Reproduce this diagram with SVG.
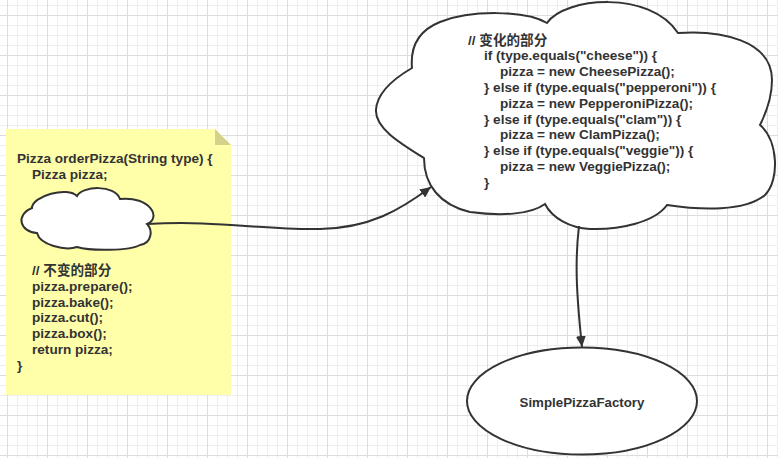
<svg xmlns="http://www.w3.org/2000/svg" width="778" height="458" viewBox="0 0 778 458">
<defs>
<pattern id="grid" patternUnits="userSpaceOnUse" x="7" y="15" width="40" height="40">
<rect x="0" y="0" width="40" height="40" fill="#ffffff"/>
<rect x="10" y="0" width="1" height="40" fill="#eeeeee"/>
<rect x="20" y="0" width="1" height="40" fill="#eeeeee"/>
<rect x="30" y="0" width="1" height="40" fill="#eeeeee"/>
<rect x="0" y="10" width="40" height="1" fill="#eeeeee"/>
<rect x="0" y="20" width="40" height="1" fill="#eeeeee"/>
<rect x="0" y="30" width="40" height="1" fill="#eeeeee"/>
<rect x="0" y="0" width="1" height="40" fill="#dddddd"/>
<rect x="0" y="0" width="40" height="1" fill="#dddddd"/>
</pattern>
<marker id="arrow" markerUnits="userSpaceOnUse" markerWidth="12" markerHeight="10" refX="11" refY="5" orient="auto">
<path d="M0,0 L11,5 L0,10 z" fill="#333333"/>
</marker>
<style>
.t{font-family:"Liberation Sans","Noto Sans CJK SC",sans-serif;font-size:13.6px;font-weight:bold;fill:#333333}
.shape{fill:#ffffff;stroke:#333333;stroke-width:2}
.conn{fill:none;stroke:#333333;stroke-width:2;marker-end:url(#arrow)}
</style>
</defs>
<rect x="0" y="0" width="778" height="458" fill="url(#grid)"/>

<g id="note">
<path d="M6,129 H215 L231,145 V395 H6 z" fill="#ffffaa"/>
<path d="M215,129 L215,145 L231,145 z" fill="#d3d18a"/>
<text class="t" x="17" y="163">Pizza orderPizza(String type) {</text>
<text class="t" x="32" y="178.8">Pizza pizza;</text>
<text class="t" x="32" y="275">// 不变的部分</text>
<text class="t" x="32" y="290.8">pizza.prepare();</text>
<text class="t" x="32" y="306.6">pizza.bake();</text>
<text class="t" x="32" y="322.4">pizza.cut();</text>
<text class="t" x="32" y="338.2">pizza.box();</text>
<text class="t" x="32" y="354">return pizza;</text>
<text class="t" x="17" y="369.8">}</text>
</g>

<g id="small-cloud">
<path class="shape" d="M32,208 C32,196 68,186 77,196 C82,186 115,184 120,199 C150,196 162,218 147,224 C153,230 152,243 140,245 C130,251 90,251 77,247 C65,251 40,245 37,233 C20,232 15,215 32,208 z"/>
</g>

<g id="big-cloud">
<path class="shape" d="M412,68 C410,45 420,30 440,22 C470,10 525,10 547,23 C565,-3 650,-10 678,33 C720,30 772,40 772,80 C772,100 765,115 760,125 C778,140 780,180 765,195 C745,212 700,210 667,205 C655,222 620,230 590,229 C570,228 552,218 545,204 C530,215 500,216 470,212 C440,205 424,185 424,158 C400,143 375,128 376,110 C377,90 400,75 412,68 z"/>
<text class="t" x="468" y="44.5">// 变化的部分</text>
<text class="t" x="484" y="60.3">if (type.equals("cheese")) {</text>
<text class="t" x="500" y="76.1">pizza = new CheesePizza();</text>
<text class="t" x="484" y="91.9">} else if (type.equals("pepperoni")) {</text>
<text class="t" x="500" y="107.7">pizza = new PepperoniPizza();</text>
<text class="t" x="484" y="123.5">} else if (type.equals("clam")) {</text>
<text class="t" x="500" y="139.3">pizza = new ClamPizza();</text>
<text class="t" x="484" y="155.1">} else if (type.equals("veggie")) {</text>
<text class="t" x="500" y="170.9">pizza = new VeggiePizza();</text>
<text class="t" x="484" y="186.7">}</text>
</g>

<g id="factory">
<ellipse class="shape" cx="582" cy="401" rx="115" ry="53.5"/>
<text class="t" x="582" y="406.5" text-anchor="middle" style="font-size:13.3px">SimplePizzaFactory</text>
</g>

<g id="connectors">
<path class="conn" d="M147,224 C220,220 260,230 320,229 C370,228 400,210 431,187"/>
<path class="conn" d="M579,226 C575,260 576,290 582,347"/>
</g>
</svg>
